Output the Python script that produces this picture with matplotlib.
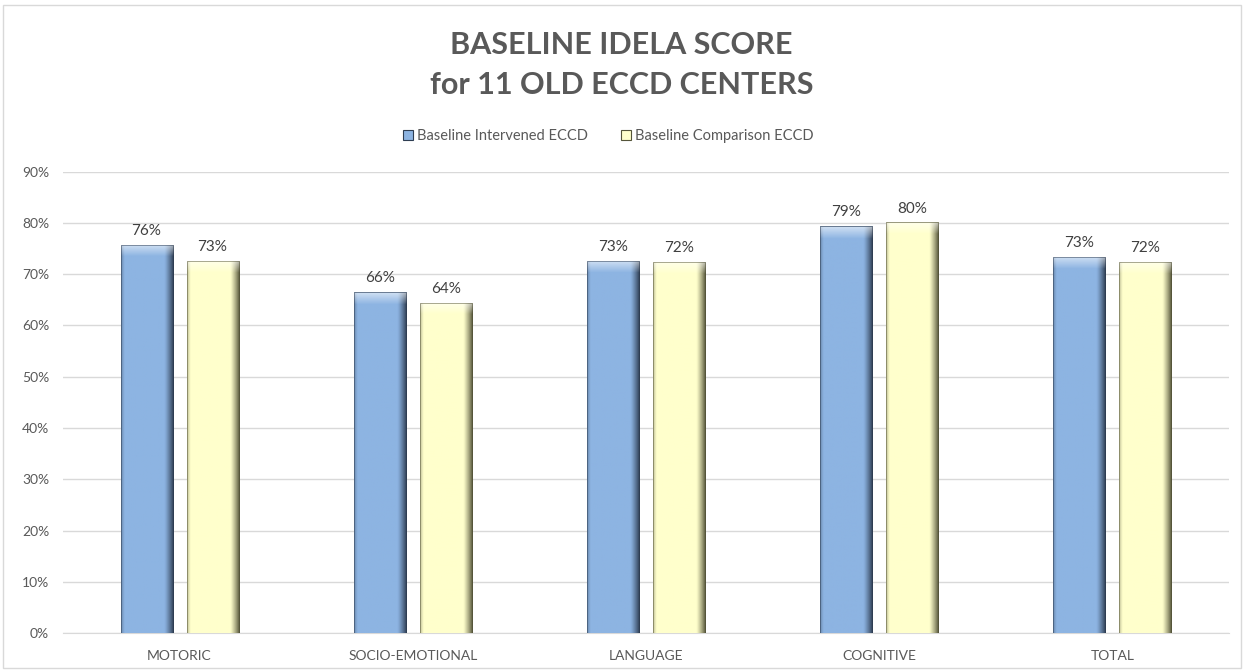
import numpy as np
import matplotlib
matplotlib.use('Agg')
import matplotlib.pyplot as plt
from matplotlib.patches import Patch, Rectangle
from matplotlib.colors import to_rgb

plt.rcParams['font.family'] = ['Lato', 'DejaVu Sans']

# data
categories = ['MOTORIC', 'SOCIO-EMOTIONAL', 'LANGUAGE', 'COGNITIVE', 'TOTAL']
intervened = [0.757, 0.665, 0.726, 0.794, 0.734]
comparison = [0.726, 0.644, 0.724, 0.801, 0.724]
series_names = ['Baseline Intervened ECCD', 'Baseline Comparison ECCD']
yticks = [0, 0.1, 0.2, 0.3, 0.4, 0.5, 0.6, 0.7, 0.8, 0.9]

blue = '#8DB4E2'
yellow = '#FFFFCC'
gray_txt = '#595959'


def bevel_image(color, dark, height, rows=400, cols=60):
    # fake the excel bevel: dark right edge, lighter top band
    base = np.array(to_rgb(color))
    dk = np.array(to_rgb(dark))
    img = np.ones((rows, cols, 3)) * base
    x = np.linspace(0, 1, cols)
    right = np.clip((x - 0.82) / 0.18, 0, 1) ** 1.3
    left = np.clip((0.06 - x) / 0.06, 0, 1) * 0.35
    shade = np.maximum(right, left)
    img = img * (1 - shade[None, :, None]) + dk * shade[None, :, None]
    band = max(2, int(rows * 0.024 / height))
    white = np.array([1, 1, 1])
    for r in range(band):
        a = 0.6 * (1 - r / band)
        img[rows - 1 - r] = img[rows - 1 - r] * (1 - a) + white * a
    img[rows - 1] = img[rows - 1] * 0.6 + base * 0.4 * 0.7
    return img


fig = plt.figure(figsize=(12.44, 6.70), dpi=100)
ax = fig.add_axes([0.0506, 0.0552, 0.9373, 0.6885])

x = np.arange(len(categories))
w = 0.223
off = 0.1415

bars1 = ax.bar(x - off, intervened, w, color=blue, zorder=2)
bars2 = ax.bar(x + off, comparison, w, color=yellow, zorder=2)

for bars, c, dk in [(bars1, blue, '#2E3D52'), (bars2, yellow, '#55553A')]:
    for b in bars:
        x0, y0 = b.get_x(), b.get_y()
        bw, bh = b.get_width(), b.get_height()
        im = ax.imshow(bevel_image(c, dk, bh), extent=[x0, x0 + bw, y0, y0 + bh],
                       origin='lower', aspect='auto', zorder=3, interpolation='bilinear')
        im.set_clip_path(b)
        ax.add_patch(Rectangle((x0, y0), bw, bh, fill=False, edgecolor=dk, lw=0.6, alpha=0.6, zorder=4))
        ax.annotate(f'{bh * 100:.0f}%', (x0 + bw / 2, bh), xytext=(0, 5), textcoords='offset points',
                    ha='center', va='bottom', fontsize=11, color='#404040', zorder=5)

ax.set_xlim(-0.5, len(categories) - 0.5)
ax.set_ylim(0, 0.9)
ax.set_yticks(yticks)
ax.set_yticklabels([f'{int(round(t * 100))}%' for t in yticks])
ax.set_xticks(x)
ax.set_xticklabels(categories)
ax.tick_params(length=0, colors=gray_txt, labelsize=10)
ax.tick_params(axis='y', pad=10)
ax.tick_params(axis='x', pad=12)
ax.grid(axis='y', color='#D9D9D9', lw=1, zorder=0)
ax.set_axisbelow(True)
for s in ['top', 'right', 'left']:
    ax.spines[s].set_visible(False)
ax.spines['bottom'].set_color('#D9D9D9')

fig.text(0.4995, 0.933, 'BASELINE IDELA SCORE', ha='center', va='center',
         fontsize=22, fontweight='bold', color=gray_txt)
fig.text(0.4995, 0.873, 'for 11 OLD ECCD CENTERS', ha='center', va='center',
         fontsize=22, fontweight='bold', color=gray_txt)

handles = [Patch(facecolor=blue, edgecolor='#2E3D52', lw=0.8),
           Patch(facecolor=yellow, edgecolor='#55553A', lw=0.8)]
fig.legend(handles, series_names, loc='center', bbox_to_anchor=(0.489, 0.797), ncol=2,
           frameon=False, fontsize=10.5, labelcolor=gray_txt, handlelength=0.7, handleheight=0.7,
           handletextpad=0.3, columnspacing=2.2)

# outer chart frame
fig.add_artist(Rectangle((0.0025, 0.003), 0.995, 0.989, transform=fig.transFigure,
                         fill=False, edgecolor='#D9D9D9', lw=1))

fig.savefig('out.png', dpi=100)
